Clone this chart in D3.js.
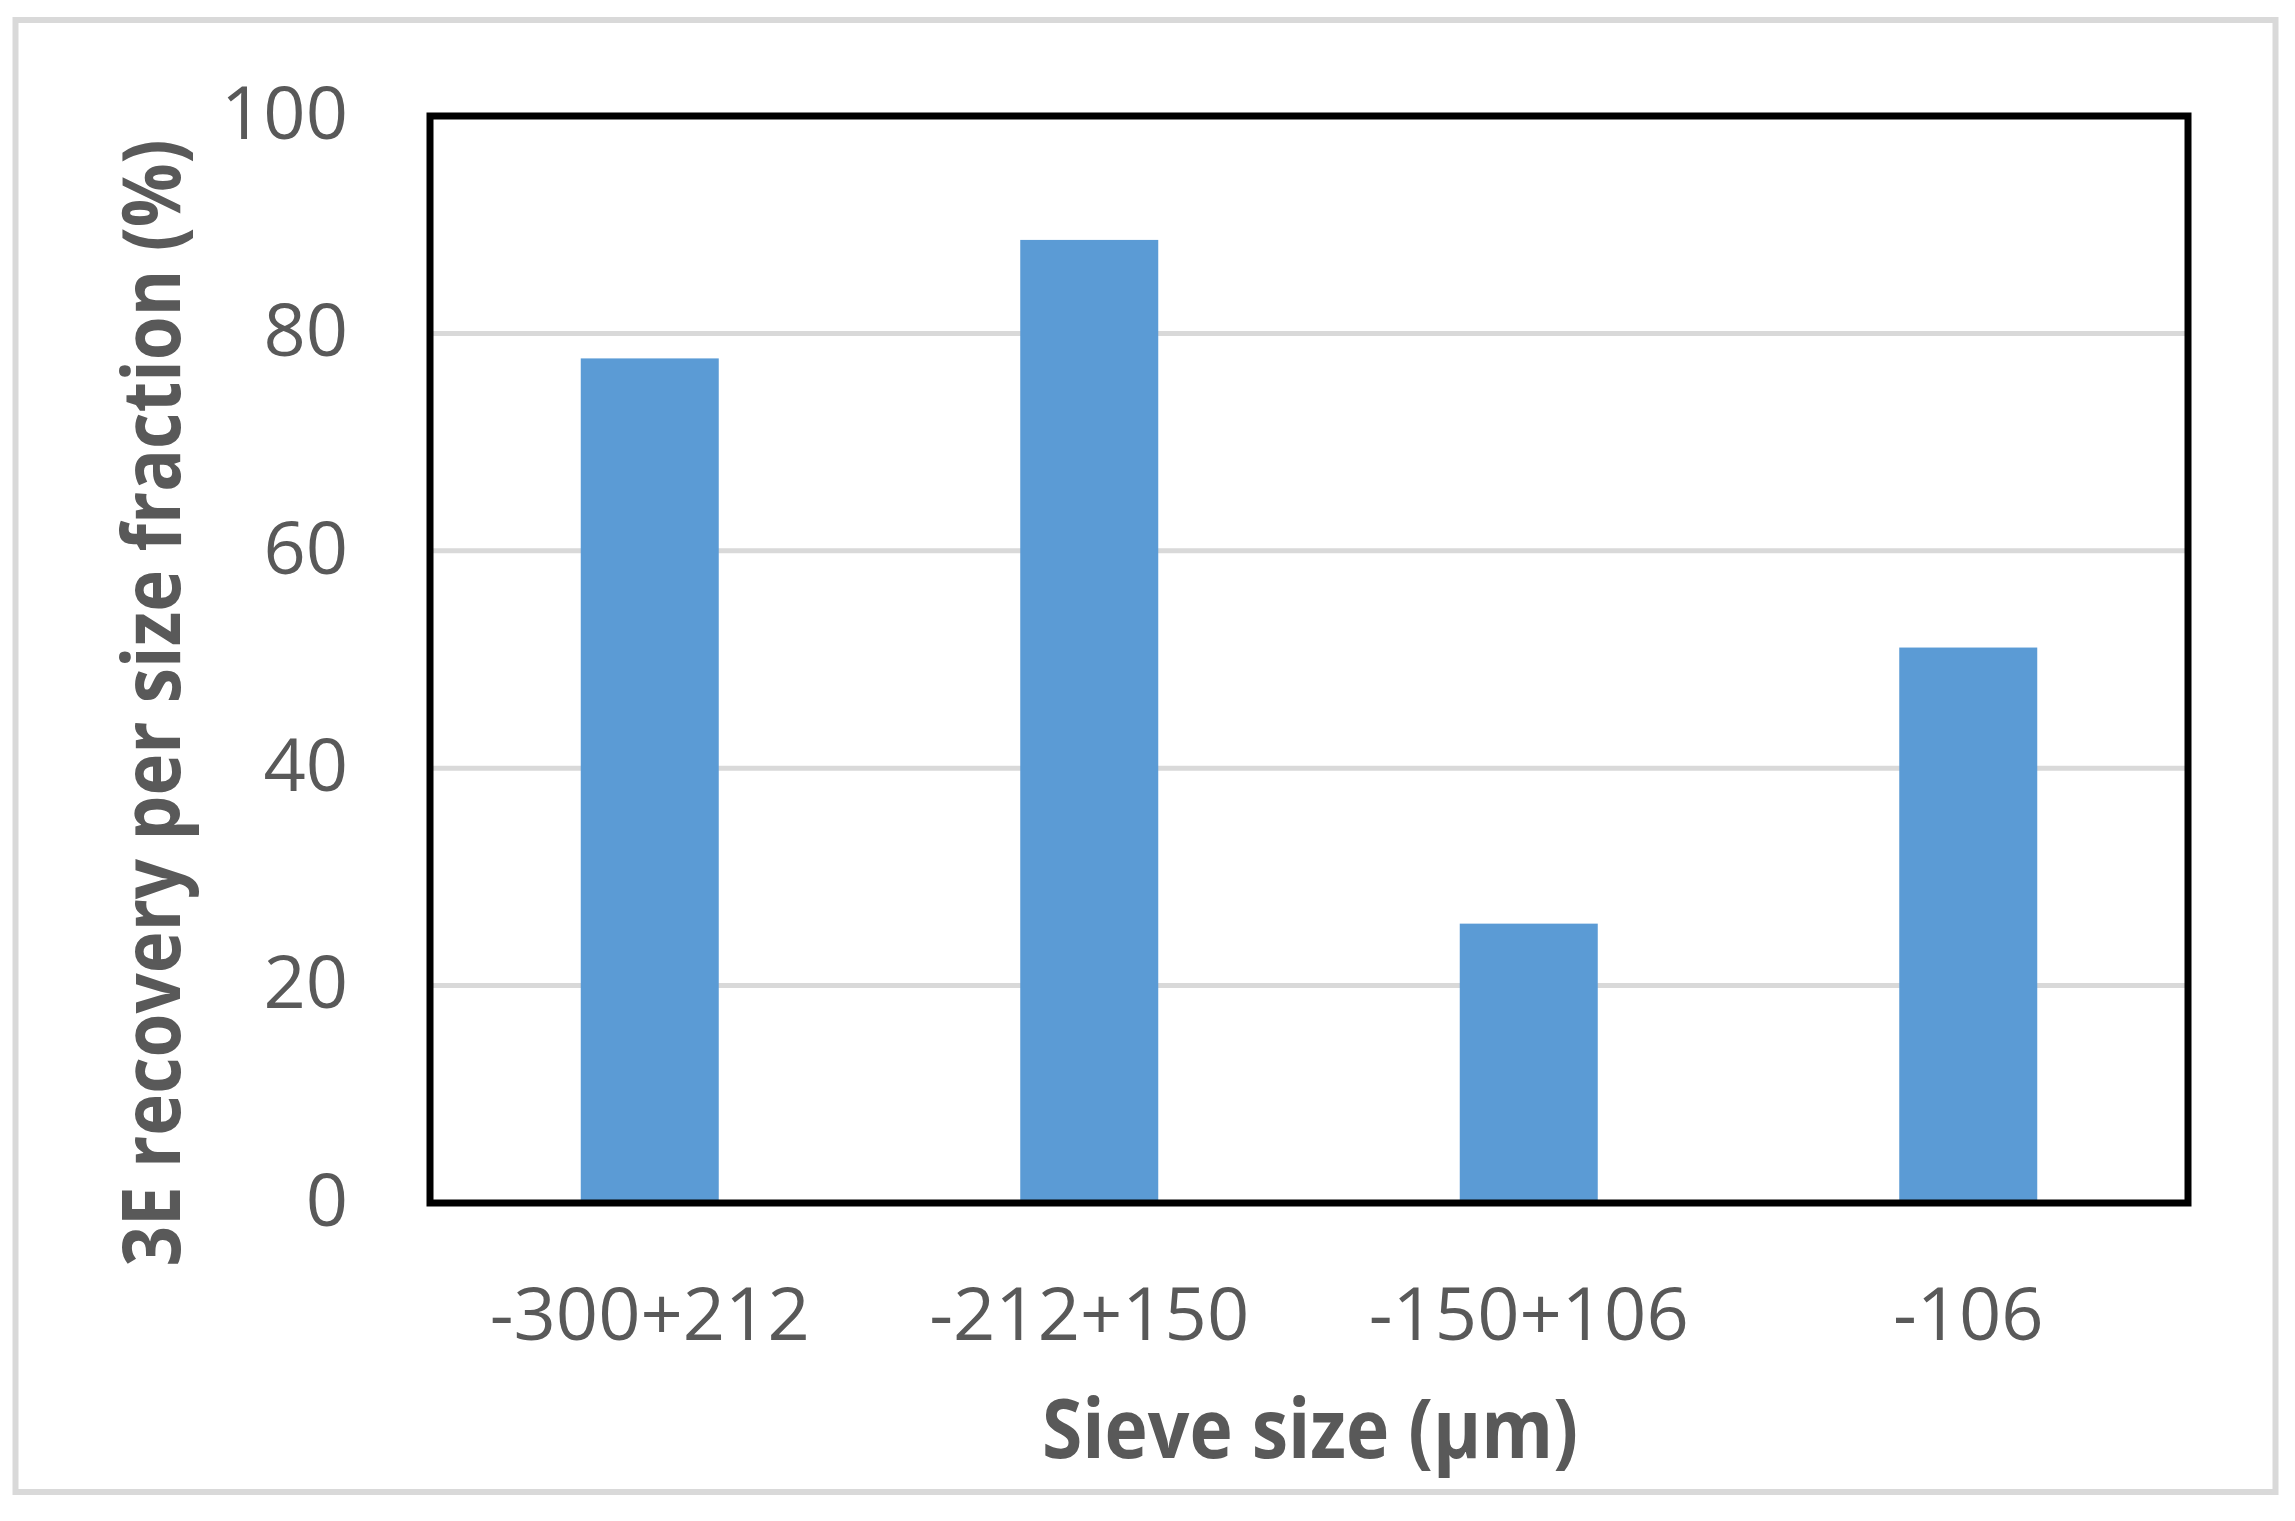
<!DOCTYPE html>
<html>
<head>
<meta charset="utf-8">
<script src="https://cdn.jsdelivr.net/npm/d3@7"></script>
<style>
  html, body { margin: 0; padding: 0; background: #fff; }
</style>
</head>
<body>
<div class="chart"></div>
<script>
// data
const sizes = ['-300+212', '-212+150', '-150+106', '-106'];
const recovery = [77.7, 88.6, 25.7, 51.1];
const yTicks = [0, 20, 40, 60, 80, 100];

const width = 2295;
const height = 1521;
const margin = {top: 116, right: 107, bottom: 318, left: 430};

const svg = d3.select('.chart').append('svg')
    .attr('width', width)
    .attr('height', height)
    .style('display', 'block');

svg.append('rect')
    .attr('width', width).attr('height', height)
    .attr('fill', 'white');

// outer border
svg.append('rect')
    .attr('x', 15.5).attr('y', 20)
    .attr('width', 2260).attr('height', 1472)
    .attr('fill', 'none')
    .attr('stroke', '#d9d9d9')
    .attr('stroke-width', 6);

const x = d3.scaleBand()
    .domain(sizes)
    .range([margin.left, width - margin.right])
    .paddingInner(0.686)
    .paddingOuter(0.343);

const y = d3.scaleLinear()
    .domain([0, 100])
    .range([height - margin.bottom, margin.top]);

// gridlines
svg.append('g')
    .selectAll('line')
    .data(yTicks.filter(d => d > 0 && d < 100))
    .join('line')
    .attr('x1', margin.left).attr('x2', width - margin.right)
    .attr('y1', d => y(d)).attr('y2', d => y(d))
    .attr('stroke', '#d9d9d9')
    .attr('stroke-width', 5);

// bars
svg.append('g')
    .selectAll('rect')
    .data(recovery)
    .join('rect')
    .attr('x', (d, i) => x(sizes[i]))
    .attr('y', d => y(d))
    .attr('width', x.bandwidth())
    .attr('height', d => y(0) - y(d))
    .attr('fill', '#5b9bd5');

// plot frame
svg.append('rect')
    .attr('x', margin.left).attr('y', margin.top)
    .attr('width', width - margin.left - margin.right)
    .attr('height', height - margin.top - margin.bottom)
    .attr('fill', 'none')
    .attr('stroke', '#000')
    .attr('stroke-width', 7);

// y axis labels
const yAxis = svg.append('g')
    .attr('transform', `translate(${margin.left},0)`)
    .call(d3.axisLeft(y).tickValues(yTicks).tickSize(0).tickPadding(82));
yAxis.select('.domain').remove();
yAxis.selectAll('text')
    .attr('dy', '0.3em')
    .style('font-family', '"Open Sans", "Noto Sans", sans-serif')
    .style('font-size', '74px')
    .attr('fill', '#595959');

// x axis labels
const xAxis = svg.append('g')
    .attr('transform', `translate(0,${height - margin.bottom})`)
    .call(d3.axisBottom(x).tickSize(0).tickPadding(84));
xAxis.select('.domain').remove();
xAxis.selectAll('text')
    .attr('dy', '0.71em')
    .style('font-family', '"Open Sans", "Noto Sans", sans-serif')
    .style('font-size', '74px')
    .attr('fill', '#595959');

// axis titles
svg.append('text')
    .attr('x', 1310).attr('y', 1458)
    .attr('text-anchor', 'middle')
    .attr('textLength', 536)
    .attr('lengthAdjust', 'spacingAndGlyphs')
    .style('font-family', '"Liberation Sans Narrow", "Open Sans", sans-serif')
    .style('font-weight', 'bold')
    .style('font-size', '82px')
    .attr('fill', '#595959')
    .text('Sieve size (µm)');

svg.append('text')
    .attr('transform', 'translate(180,703) rotate(-90)')
    .attr('text-anchor', 'middle')
    .attr('textLength', 1127)
    .attr('lengthAdjust', 'spacingAndGlyphs')
    .style('font-family', '"Liberation Sans Narrow", "Open Sans", sans-serif')
    .style('font-weight', 'bold')
    .style('font-size', '80px')
    .attr('fill', '#595959')
    .text('3E recovery per size fraction (%)');
</script>
</body>
</html>
